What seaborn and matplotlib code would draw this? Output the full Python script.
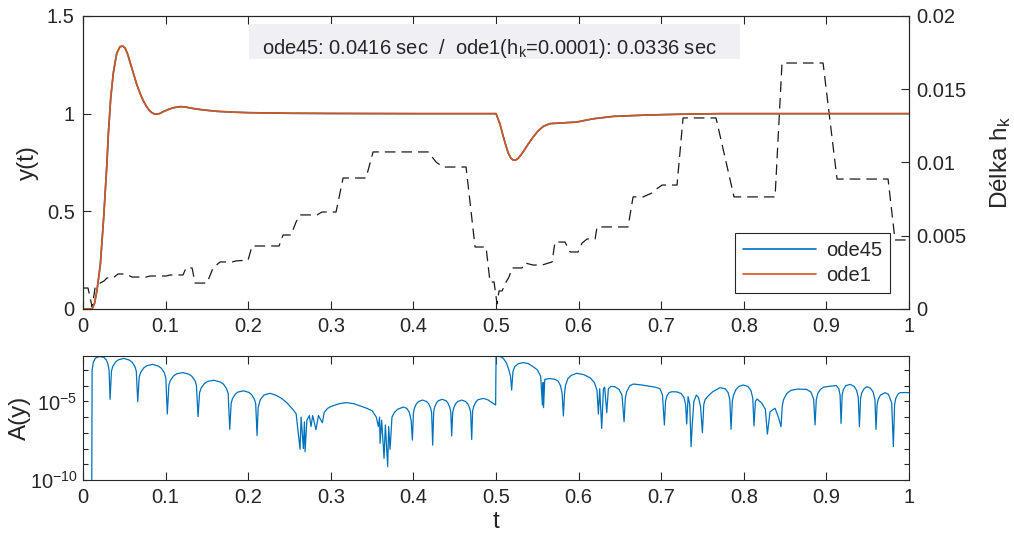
import numpy as np
import matplotlib
matplotlib.use("Agg")
import matplotlib.pyplot as plt
import matplotlib.ticker as mticker
from matplotlib.patches import Rectangle
import seaborn as sns

# odezva y(t) - ode45 a ode1 se na teto skale prekryvaji
t_resp = [0.0, 0.011, 0.014, 0.017, 0.021, 0.025, 0.0287, 0.0307, 0.0335, 0.0367,
          0.0408, 0.0448, 0.0481, 0.051, 0.054, 0.0575, 0.061, 0.065, 0.069, 0.073,
          0.077, 0.080, 0.083, 0.086, 0.089, 0.093, 0.097, 0.103, 0.109, 0.1175,
          0.124, 0.1295, 0.137, 0.1457, 0.1618, 0.18, 0.2, 0.25, 0.3, 0.4,
          0.5, 0.5045, 0.5088, 0.512, 0.5149, 0.518, 0.5209, 0.524, 0.527, 0.533,
          0.539, 0.5452, 0.551, 0.5573, 0.5654, 0.5815, 0.5977, 0.6178, 0.642, 0.6824,
          0.7228, 0.7712, 0.85, 1.0]
y_ode45 = [0.0, 0.0, 0.03, 0.10, 0.23, 0.47, 0.73, 0.90, 1.08, 1.21,
           1.31, 1.343, 1.346, 1.335, 1.305, 1.255, 1.206, 1.15, 1.104, 1.065,
           1.036, 1.018, 1.006, 0.999, 0.997, 1.001, 1.010, 1.021, 1.030, 1.036,
           1.034, 1.029, 1.024, 1.019, 1.012, 1.008, 1.005, 1.002, 1.001, 1.0,
           1.0, 0.95, 0.882, 0.835, 0.797, 0.772, 0.762, 0.763, 0.772, 0.805,
           0.845, 0.882, 0.912, 0.935, 0.949, 0.953, 0.957, 0.974, 0.986, 0.993,
           0.997, 1.0, 1.0, 1.0]
y_ode1 = [0.0, 0.0, 0.03, 0.10, 0.23, 0.47, 0.73, 0.90, 1.08, 1.21,
          1.31, 1.343, 1.346, 1.335, 1.305, 1.255, 1.206, 1.15, 1.104, 1.065,
          1.036, 1.018, 1.006, 0.999, 0.997, 1.001, 1.010, 1.021, 1.030, 1.036,
          1.034, 1.029, 1.024, 1.019, 1.012, 1.008, 1.005, 1.002, 1.001, 1.0,
          1.0, 0.95, 0.882, 0.835, 0.797, 0.772, 0.762, 0.763, 0.772, 0.805,
          0.845, 0.882, 0.912, 0.935, 0.949, 0.953, 0.957, 0.974, 0.986, 0.993,
          0.997, 1.0, 1.0, 1.0]

# delka kroku h_k solveru ode45
t_step = [0.0, 0.006, 0.011, 0.0145, 0.0206, 0.0254, 0.029, 0.0363, 0.0424, 0.052,
          0.0593, 0.0763, 0.0811, 0.1005, 0.1053, 0.121, 0.1247, 0.132, 0.1356, 0.150,
          0.1574, 0.1659, 0.1804, 0.1852, 0.1998, 0.2046, 0.2373, 0.2421, 0.2518, 0.2579,
          0.2627, 0.2833, 0.2893, 0.3063, 0.3148, 0.3426, 0.3511, 0.4177, 0.4274, 0.4358,
          0.4637, 0.4746, 0.4879, 0.4927, 0.4976, 0.5012, 0.5036, 0.5073, 0.5121, 0.5157,
          0.5194, 0.5315, 0.5351, 0.5448, 0.5557, 0.5678, 0.5714, 0.5835, 0.5896, 0.5993,
          0.6041, 0.6102, 0.6199, 0.6223, 0.6598, 0.6659, 0.678, 0.6889, 0.6925, 0.701,
          0.7191, 0.7264, 0.7663, 0.7881, 0.8378, 0.8462, 0.8959, 0.9128, 0.9746, 0.983,
          1.0]
h_step = [0.00143, 0.00143, 0.00014, 0.00143, 0.00177, 0.00191, 0.00212, 0.00212, 0.00239, 0.00239,
          0.00218, 0.00218, 0.00225, 0.00225, 0.00232, 0.00232, 0.0028, 0.0028, 0.00177, 0.00177,
          0.0028, 0.00321, 0.00321, 0.00328, 0.00334, 0.0043, 0.0043, 0.00505, 0.00505, 0.00594,
          0.00642, 0.00642, 0.00662, 0.00662, 0.00894, 0.00894, 0.01072, 0.01072, 0.01003, 0.00969,
          0.00969, 0.00423, 0.00423, 0.00184, 0.00184, 0.00034, 0.00123, 0.00123, 0.00184, 0.00218,
          0.0028, 0.0028, 0.00314, 0.003, 0.003, 0.00321, 0.00457, 0.00457, 0.00389, 0.00389,
          0.0045, 0.00478, 0.00478, 0.0056, 0.0056, 0.00765, 0.00765, 0.00792, 0.00812, 0.00846,
          0.00846, 0.01304, 0.01304, 0.00765, 0.00765, 0.01679, 0.01679, 0.00887, 0.00887, 0.00471,
          0.00471]

# rozdil A(y) mezi resenimi, zadany jako exponent log10
t_err = [0.0105, 0.011, 0.0125, 0.015, 0.020, 0.025, 0.028, 0.030, 0.0315, 0.0327,
         0.0344, 0.036, 0.0394, 0.0428, 0.0495, 0.0562, 0.0595, 0.0629, 0.0645, 0.0662,
         0.068, 0.0698, 0.0734, 0.077, 0.0841, 0.0913, 0.0948, 0.0984, 0.1002, 0.102,
         0.1039, 0.1057, 0.1094, 0.1132, 0.1206, 0.128, 0.1318, 0.1355, 0.1373, 0.1392,
         0.1411, 0.143, 0.1469, 0.1507, 0.1584, 0.1661, 0.1699, 0.1738, 0.1757, 0.1776,
         0.1793, 0.1809, 0.1842, 0.1875, 0.1942, 0.2008, 0.2041, 0.2074, 0.209, 0.2107,
         0.212, 0.2145, 0.219, 0.2264, 0.233, 0.240, 0.247, 0.2546, 0.258, 0.2627,
         0.264, 0.2667, 0.268, 0.2688, 0.271, 0.274, 0.276, 0.278, 0.282, 0.285,
         0.2897, 0.292, 0.296, 0.300, 0.310, 0.319, 0.328, 0.336, 0.344, 0.350,
         0.355, 0.3575, 0.359, 0.3596, 0.3615, 0.3644, 0.366, 0.3688, 0.370, 0.3717,
         0.374, 0.377, 0.381, 0.3878, 0.392, 0.395, 0.3972, 0.3987, 0.400, 0.4012,
         0.4036, 0.4061, 0.411, 0.4159, 0.4184, 0.4208, 0.422, 0.4233, 0.4245, 0.4256,
         0.4279, 0.4302, 0.4348, 0.4394, 0.4417, 0.444, 0.4452, 0.4463, 0.4475, 0.4487,
         0.4511, 0.4536, 0.4584, 0.4632, 0.4657, 0.4681, 0.4693, 0.4705, 0.4717, 0.473,
         0.4755, 0.478, 0.4847, 0.490, 0.495, 0.4995, 0.5, 0.502, 0.505, 0.5088,
         0.5125, 0.5155, 0.5175, 0.5189, 0.5205, 0.5225, 0.527, 0.533, 0.539, 0.545,
         0.550, 0.554, 0.5561, 0.557, 0.5575, 0.559, 0.565, 0.571, 0.575, 0.578,
         0.580, 0.5815, 0.5828, 0.584, 0.587, 0.591, 0.5977, 0.606, 0.6138, 0.619,
         0.6222, 0.6239, 0.6255, 0.6279, 0.630, 0.6315, 0.634, 0.636, 0.639, 0.644,
         0.649, 0.6525, 0.655, 0.6565, 0.658, 0.662, 0.6663, 0.675, 0.685, 0.693,
         0.6985, 0.7015, 0.7038, 0.7052, 0.7068, 0.7095, 0.7127, 0.719, 0.724, 0.7275,
         0.7295, 0.7308, 0.7325, 0.7345, 0.7361, 0.7375, 0.7395, 0.7425, 0.745, 0.7475,
         0.7498, 0.7515, 0.753, 0.756, 0.762, 0.7712, 0.7775, 0.781, 0.783, 0.7845,
         0.786, 0.7875, 0.7905, 0.794, 0.7994, 0.805, 0.8085, 0.8108, 0.8123, 0.814,
         0.816, 0.8215, 0.826, 0.8285, 0.8317, 0.8378, 0.8418, 0.845, 0.8465, 0.848,
         0.8519, 0.857, 0.865, 0.876, 0.881, 0.8845, 0.8862, 0.8877, 0.8895, 0.8925,
         0.8963, 0.904, 0.912, 0.915, 0.9165, 0.9177, 0.919, 0.9205, 0.9235, 0.9286,
         0.9335, 0.9365, 0.9385, 0.9399, 0.9413, 0.9428, 0.9455, 0.9488, 0.953, 0.9565,
         0.9587, 0.960, 0.9613, 0.9628, 0.9655, 0.9709, 0.975, 0.979, 0.981, 0.9825,
         0.984, 0.9865, 0.989, 0.995, 1.0]
err_exp = [-11.0, -3.0, -2.5, -2.25, -2.15, -2.2, -2.35, -2.6, -3.0, -4.87,
           -3.07, -2.78, -2.5, -2.36, -2.27, -2.38, -2.52, -2.8, -3.1, -5.02,
           -3.45, -3.16, -2.88, -2.74, -2.65, -2.76, -2.9, -3.18, -3.5, -5.8,
           -3.96, -3.67, -3.39, -3.25, -3.17, -3.27, -3.41, -3.69, -4.0, -5.97,
           -4.44, -4.15, -3.87, -3.73, -3.66, -3.77, -3.9, -4.2, -4.5, -6.78,
           -5.12, -4.83, -4.55, -4.41, -4.33, -4.43, -4.57, -4.86, -5.15, -7.18,
           -5.4, -4.9, -4.6, -4.49, -4.6, -4.8, -5.1, -5.55, -5.8, -8.05,
           -6.0, -8.0, -6.3, -8.2, -6.2, -5.9, -6.6, -5.9, -6.8, -5.9,
           -6.36, -5.7, -5.45, -5.33, -5.15, -5.08, -5.15, -5.3, -5.45, -5.6,
           -6.0, -6.6, -6.0, -7.67, -6.2, -8.62, -6.5, -9.15, -6.6, -8.05,
           -6.0, -5.7, -5.5, -5.36, -5.45, -5.7, -6.2, -7.46, -5.72, -5.43,
           -5.15, -5.01, -4.92, -5.01, -5.15, -5.43, -5.72, -7.78, -5.67, -5.38,
           -5.1, -4.96, -4.87, -4.96, -5.1, -5.38, -5.67, -7.2, -5.72, -5.43,
           -5.15, -5.01, -4.92, -5.01, -5.15, -5.43, -5.72, -7.42, -5.6, -5.32,
           -5.05, -4.9, -4.81, -4.9, -5.08, -5.23, -2.06, -2.08, -2.15, -2.27,
           -2.55, -3.0, -3.4, -4.28, -3.1, -2.8, -2.6, -2.54, -2.6, -2.8,
           -3.0, -3.4, -5.23, -3.8, -5.4, -3.6, -3.55, -3.6, -3.7, -4.0,
           -4.5, -5.93, -4.6, -4.0, -3.55, -3.35, -3.22, -3.3, -3.5, -3.8,
           -4.3, -5.81, -4.2, -6.72, -4.2, -4.1, -5.72, -4.2, -4.05, -4.07,
           -4.25, -4.6, -6.29, -4.8, -4.4, -4.0, -3.9, -3.95, -4.03, -4.1,
           -4.2, -4.6, -6.5, -5.0, -4.65, -4.45, -4.39, -4.4, -4.5, -4.75,
           -5.2, -6.44, -4.7, -5.2, -7.88, -6.5, -5.0, -4.6, -4.75, -5.3,
           -6.99, -5.2, -4.9, -4.7, -4.4, -4.13, -4.2, -4.45, -4.9, -6.78,
           -5.0, -4.6, -4.25, -4.05, -3.96, -4.05, -4.3, -4.8, -6.57, -5.0,
           -4.85, -5.1, -5.5, -7.08, -5.66, -5.44, -6.0, -6.61, -5.3, -4.9,
           -4.5, -4.3, -4.22, -4.24, -4.4, -4.85, -6.5, -4.9, -4.5, -4.25,
           -4.1, -4.04, -4.0, -4.2, -4.6, -6.4, -4.6, -4.25, -4.0, -3.92,
           -4.05, -4.3, -4.75, -6.61, -4.8, -4.45, -4.2, -4.07, -4.15, -4.4,
           -4.9, -6.78, -5.2, -4.85, -4.6, -4.45, -4.55, -5.1, -7.88, -5.2,
           -4.8, -4.55, -4.45, -4.44, -4.45]

x_ticks = [0, 0.1, 0.2, 0.3, 0.4, 0.5, 0.6, 0.7, 0.8, 0.9, 1]
x_tick_labels = ['0', '0.1', '0.2', '0.3', '0.4', '0.5', '0.6', '0.7', '0.8', '0.9', '1']
y_ticks = [0, 0.5, 1, 1.5]
y_tick_labels = ['0', '0.5', '1', '1.5']
h_ticks = [0, 0.005, 0.01, 0.015, 0.02]
h_tick_labels = ['0', '0.005', '0.01', '0.015', '0.02']

popis = 'ode45: 0.0416 sec  /  ode1(h$_k$=0.0001): 0.0336 sec'

# barvy ve stylu MATLABu
modra = '#0072BD'
oranzova = '#D95319'
seda = '#262626'
fs_tick = 14.5
fs_label = 17.5

sns.set_theme(style='white')
plt.rcParams['font.family'] = ['Liberation Sans', 'DejaVu Sans']
plt.rcParams['mathtext.default'] = 'regular'
plt.rcParams['axes.edgecolor'] = seda
plt.rcParams['axes.linewidth'] = 0.8
plt.rcParams['xtick.color'] = seda
plt.rcParams['ytick.color'] = seda

fig = plt.figure(figsize=(10.14, 5.33), dpi=100)
ax1 = fig.add_axes([0.0819, 0.4203, 0.8146, 0.5497])
ax2 = ax1.twinx()
ax3 = fig.add_axes([0.0819, 0.0994, 0.8146, 0.2326])

# horni graf - delka kroku na prave ose
sns.lineplot(x=t_step, y=h_step, ax=ax2, color='k', linewidth=0.9, estimator=None)
ax2.lines[-1].set_dashes([8.5, 4.8])
ax2.set_ylim(0, 0.02)
ax2.set_yticks(h_ticks)
ax2.set_yticklabels(h_tick_labels)
ax2.tick_params(axis='y', direction='in', length=6, width=0.8, labelsize=fs_tick, pad=5,
                right=True, left=False)
ax2.set_ylabel('Délka h$_k$', fontsize=fs_label, color=seda)
ax2.yaxis.set_label_coords(1.096, 0.5)

# odezva y(t)
ax1.set_zorder(ax2.get_zorder() + 1)
ax1.patch.set_visible(False)
sns.lineplot(x=t_resp, y=y_ode45, ax=ax1, color=modra, linewidth=1.2, label='ode45', estimator=None)
sns.lineplot(x=t_resp, y=y_ode1, ax=ax1, color=oranzova, linewidth=1.2, label='ode1', estimator=None)
ax1.set_xlim(0, 1)
ax1.set_ylim(0, 1.5)
ax1.set_xticks(x_ticks)
ax1.set_xticklabels(x_tick_labels)
ax1.set_yticks(y_ticks)
ax1.set_yticklabels(y_tick_labels)
ax1.tick_params(axis='both', direction='in', length=6, width=0.8, labelsize=fs_tick, pad=6)
ax1.tick_params(axis='x', top=True, bottom=True)
ax1.tick_params(axis='y', left=True, right=False)
ax1.set_ylabel('y(t)', fontsize=fs_label, color=seda)
ax1.yaxis.set_label_coords(-0.053, 0.5)
ax1.set_xlabel('')

leg = ax1.legend(loc='lower right', bbox_to_anchor=(0.977, 0.0546), borderaxespad=0,
                 fontsize=fs_tick, frameon=True, fancybox=False, framealpha=1,
                 edgecolor=seda, handlelength=3.6, borderpad=0.4, labelspacing=0.3,
                 handletextpad=0.5)
leg.get_frame().set_linewidth(0.8)

# ramecek s casy vypoctu
ax1.add_patch(Rectangle((0.201, 0.853), 0.5944, 0.1195, transform=ax1.transAxes,
                        facecolor='#F0F0F4', edgecolor='none', zorder=3))
ax1.text(0.2167, 0.870, popis, transform=ax1.transAxes, fontsize=fs_tick, color=seda,
         va='baseline', ha='left', zorder=4)

# dolni graf - A(y) v logaritmickem meritku
a_err = 10.0 ** np.array(err_exp)
sns.lineplot(x=t_err, y=a_err, ax=ax3, color=modra, linewidth=0.9, estimator=None)
ax3.set_yscale('log')
ax3.set_xlim(0, 1)
ax3.set_ylim(1e-10, 10 ** -2.12)
ax3.set_xticks(x_ticks)
ax3.set_xticklabels(x_tick_labels)
ax3.yaxis.set_major_locator(mticker.FixedLocator([1e-10, 1e-5]))
ax3.yaxis.set_major_formatter(mticker.LogFormatterSciNotation())
ax3.yaxis.set_minor_locator(mticker.FixedLocator([1e-9, 1e-8, 1e-7, 1e-6, 1e-4, 1e-3]))
ax3.yaxis.set_minor_formatter(mticker.NullFormatter())
ax3.tick_params(axis='x', direction='in', length=6, width=0.8, labelsize=fs_tick, pad=6,
                top=True, bottom=True)
ax3.tick_params(axis='y', which='both', direction='in', length=3.5, width=0.8,
                labelsize=fs_tick, pad=4, left=True, right=True)
ax3.set_ylabel('A(y)', fontsize=fs_label, color=seda)
ax3.yaxis.set_label_coords(-0.063, 0.5)
ax3.set_xlabel('t', fontsize=fs_label, color=seda)
ax3.xaxis.set_label_coords(0.5, -0.25)

fig.savefig('out.png', dpi=100)
